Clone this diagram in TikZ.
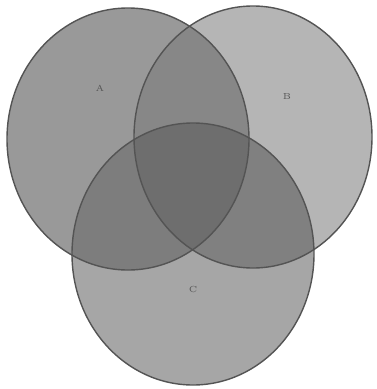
\documentclass[tikz,border=0pt]{standalone}
\definecolor{warnaA}{gray}{0.60}
\definecolor{warnaB}{gray}{0.71}
\definecolor{warnaC}{gray}{0.65}
\definecolor{warnaAB}{gray}{0.53}
\definecolor{warnaAC}{gray}{0.49}
\definecolor{warnaBC}{gray}{0.50}
\definecolor{warnaABC}{gray}{0.43}
\definecolor{garis}{gray}{0.33}
\begin{document}
\begin{tikzpicture}[x=0.02cm,y=-0.02cm]
  \useasboundingbox (0,0) rectangle (376,389);
  \def\himA{(128,139) ellipse (121 and 131)}
  \def\himB{(253,137) ellipse (119 and 131)}
  \def\himC{(193,254) ellipse (121 and 131)}
  % daerah
  \fill[warnaA] \himA;
  \fill[warnaB] \himB;
  \fill[warnaC] \himC;
  \begin{scope}
  \clip \himA;
  \fill[warnaAB] \himB;
  \end{scope}
  \begin{scope}
  \clip \himA;
  \fill[warnaAC] \himC;
  \end{scope}
  \begin{scope}
  \clip \himB;
  \fill[warnaBC] \himC;
  \end{scope}
  \begin{scope}
  \clip \himA;
  \clip \himB;
  \fill[warnaABC] \himC;
  \end{scope}
  % garis tepi
  \draw[garis, line width=0.8pt] \himA;
  \draw[garis, line width=0.8pt] \himB;
  \draw[garis, line width=0.8pt] \himC;
  % label
  \node[font=\tiny, text=garis] (labelA) at (100,88) {A};
  \node[font=\tiny, text=garis] (labelB) at (287,96) {B};
  \node[font=\tiny, text=garis] (labelC) at (193,289) {C};
\end{tikzpicture}
\end{document}
